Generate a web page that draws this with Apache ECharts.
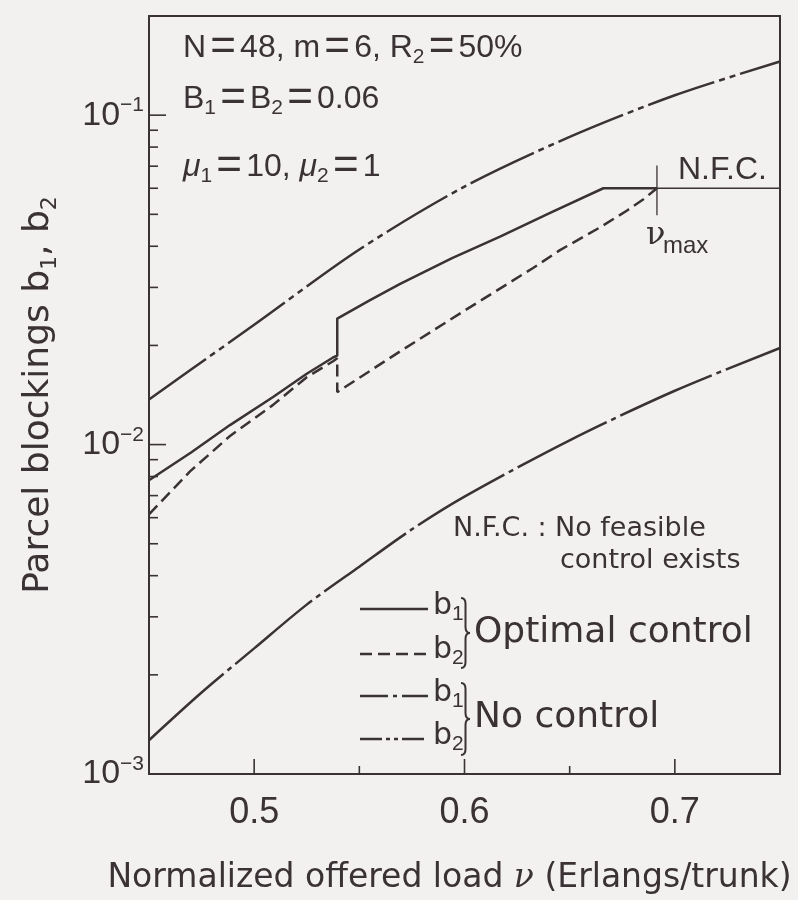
<!DOCTYPE html>
<html>
<head>
<meta charset="utf-8">
<script src="https://cdn.jsdelivr.net/npm/echarts@6/dist/echarts.min.js"></script>
<style>
html, body { margin: 0; padding: 0; background: #f2f1f0; }
#main { width: 798px; height: 900px; }
</style>
</head>
<body>
<div id="main"></div>
<script>
var ink = '#3a3234';

// optimal control, b1 (solid) and b2 (dashed): [load, blocking]
var optB1 = [
    [0.45, 0.00779], [0.47, 0.00946], [0.4885, 0.01146], [0.509, 0.01395],
    [0.525, 0.0164], [0.5377, 0.01841], [0.5395, 0.01862], [0.5395, 0.02413],
    [0.5551, 0.02745], [0.5694, 0.03075], [0.5941, 0.03683], [0.6169, 0.04276],
    [0.6407, 0.05049], [0.666, 0.06], [0.6915, 0.06]
];
var optB2 = [
    [0.45, 0.00614], [0.4695, 0.00829], [0.4885, 0.01062], [0.509, 0.0132],
    [0.525, 0.01602], [0.5375, 0.0179], [0.5395, 0.0183], [0.5395, 0.01443],
    [0.5694, 0.01919], [0.6, 0.0255], [0.6326, 0.03436], [0.6454, 0.03894],
    [0.6645, 0.04567], [0.6773, 0.05137], [0.6849, 0.05546], [0.6915, 0.06]
];
// no control
var noCtlB1 = [
    [0.45, 0.001266], [0.475, 0.001767], [0.5, 0.002406], [0.525, 0.003267],
    [0.55, 0.004258], [0.575, 0.00553], [0.6, 0.00695], [0.65, 0.0103],
    [0.7, 0.01457], [0.75, 0.01964]
];
var noCtlB2 = [
    [0.45, 0.0137], [0.47, 0.0169], [0.5, 0.0231], [0.55, 0.0391],
    [0.6, 0.0607], [0.65, 0.0859], [0.7, 0.1149], [0.75, 0.1455]
];
var nuMax = 0.6915;
var nfcLine = [[nuMax, 0.06], [0.75, 0.06]];
var nuMaxMark = [[nuMax, 0.0704], [nuMax, 0.0497]];

var xMajorTicks = [0.5, 0.6, 0.7];
var xMinorTicks = [0.55, 0.65];
var yMajorTicks = [0.01, 0.1];
var yMinorTicks = [0.002, 0.003, 0.004, 0.005, 0.006, 0.007, 0.008, 0.009,
                   0.02, 0.03, 0.04, 0.05, 0.06, 0.07, 0.08, 0.09];

// ticks drawn inward: [axis (0 = x, 1 = y), value, length]
var tickData = [];
xMajorTicks.forEach(function (v) { tickData.push([0, v, 15]); });
xMinorTicks.forEach(function (v) { tickData.push([0, v, 8]); });
yMajorTicks.forEach(function (v) { tickData.push([1, v, 17]); });
yMinorTicks.forEach(function (v) { tickData.push([1, v, 9]); });

var subStyle = { fontSize: 21, lineHeight: 21, verticalAlign: 'bottom', fontFamily: 'Liberation Sans', fill: ink };
var eqStyle = { width: 34, align: 'center', fontSize: 44, lineHeight: 40, fontFamily: 'Liberation Sans', fill: ink };
var muStyle = { fontStyle: 'italic', fontSize: 32, fontFamily: 'Liberation Sans', fill: ink };

function txt(x, y, text, size, family) {
    return {
        type: 'text', x: x, y: y, silent: true, z: 100,
        style: {
            text: text, fill: ink,
            fontSize: size, fontFamily: family || 'DejaVu Sans',
            align: 'left', verticalAlign: 'middle', lineHeight: size + 8,
            rich: { s: subStyle, eq: eqStyle, mu: muStyle }
        }
    };
}

// right curly brace from y0 to y1, tip pointing right
function brace(x, y0, y1) {
    var w = 9, r = 6, ym = (y0 + y1) / 2, xm = x + w / 2;
    var st = { stroke: ink, lineWidth: 2, fill: null };
    function bz(a, b, c, d, e, f) {
        return { type: 'bezierCurve', silent: true, z: 100,
            shape: { x1: a, y1: b, cpx1: c, cpy1: d, x2: e, y2: f }, style: st };
    }
    function ln(a, b, c, d) {
        return { type: 'line', silent: true, z: 100,
            shape: { x1: a, y1: b, x2: c, y2: d }, style: st };
    }
    return [
        bz(x, y0, xm, y0, xm, y0 + r),
        ln(xm, y0 + r, xm, ym - r),
        bz(xm, ym - r, xm, ym, x + w, ym),
        bz(x + w, ym, xm, ym, xm, ym + r),
        ln(xm, ym + r, xm, y1 - r),
        bz(xm, y1 - r, xm, y1, x, y1)
    ];
}

var graphics = [
    txt(183, 48, 'N{eq|=}48, m{eq|=}6, R{s|2}{eq|=}50%', 32, 'Liberation Sans'),
    txt(183, 99, 'B{s|1}{eq|=}B{s|2}{eq|=}0.06', 32, 'Liberation Sans'),
    txt(183, 167, '{mu|\u03bc}{s|1}{eq|=}10, {mu|\u03bc}{s|2}{eq|=}1', 32, 'Liberation Sans'),
    txt(678, 170, 'N.F.C.', 32, 'Liberation Sans'),
    txt(646, 236, '\u03bd', 32, 'DejaVu Serif'),
    txt(663, 246, 'max', 24, 'Liberation Sans'),
    txt(453, 529, 'N.F.C. :', 27),
    txt(555, 529, 'No feasible', 27),
    txt(560, 561, 'control exists', 27),
    // legend samples
    { type: 'line', shape: { x1: 360, y1: 609, x2: 428, y2: 609 }, style: { stroke: ink, lineWidth: 2.5 } },
    { type: 'line', shape: { x1: 360, y1: 654, x2: 428, y2: 654 }, style: { stroke: ink, lineWidth: 2.5, lineDash: [12, 6] } },
    { type: 'line', shape: { x1: 360, y1: 696, x2: 428, y2: 696 }, style: { stroke: ink, lineWidth: 2.5, lineDash: [28, 5, 4, 5] } },
    { type: 'line', shape: { x1: 360, y1: 739, x2: 428, y2: 739 }, style: { stroke: ink, lineWidth: 2.5, lineDash: [22, 4, 4, 4, 4, 4] } },
    txt(433, 606, 'b{s|1}', 30),
    txt(433, 650, 'b{s|2}', 30),
    txt(433, 693, 'b{s|1}', 30),
    txt(433, 736, 'b{s|2}', 30),
    txt(474, 633, 'Optimal control', 36),
    txt(474, 718, 'No control', 36)
].concat(brace(461, 598, 668), brace(461, 683, 755));

var chart = echarts.init(document.getElementById('main'));
var option = {
    backgroundColor: '#f2f1f0',
    animation: false,
    grid: {
        left: 149, right: 18, top: 16, bottom: 120,
        show: true, borderColor: ink, borderWidth: 2, backgroundColor: 'transparent'
    },
    xAxis: {
        type: 'value', min: 0.45, max: 0.75, interval: 0.05,
        axisLine: { show: false },
        axisTick: { show: false },
        splitLine: { show: false },
        axisLabel: {
            margin: 21, color: ink, fontSize: 36,
            fontFamily: '"Liberation Sans Narrow", "Liberation Sans"',
            formatter: function (v) {
                var t = Math.round(v * 10);
                return (Math.abs(v * 10 - t) < 1e-6 && v > 0.46 && v < 0.74) ? (t / 10).toFixed(1) : '';
            }
        },
        name: 'Normalized offered load {i|ν} (Erlangs/trunk)',
        nameLocation: 'middle', nameGap: 88,
        nameTextStyle: {
            color: ink, fontSize: 33, fontFamily: 'DejaVu Sans', padding: [0, 30, 0, 0],
            rich: { i: { fontStyle: 'italic', fontSize: 33, fontFamily: 'DejaVu Serif', color: ink } }
        }
    },
    yAxis: {
        type: 'log', logBase: 10, min: 0.001, max: 0.2,
        axisLine: { show: false },
        axisTick: { show: false },
        splitLine: { show: false },
        axisLabel: {
            margin: 5, color: ink,
            formatter: function (v) {
                var e = Math.round(Math.log(v) / Math.LN10);
                if (Math.abs(v - Math.pow(10, e)) > 1e-6 * v) return '';
                return '{b|10}{p|\u2212' + (-e) + '}';
            },
            rich: {
                b: { fontSize: 34, lineHeight: 40, fontFamily: 'Liberation Sans', color: ink },
                p: { fontSize: 21, lineHeight: 21, verticalAlign: 'top', fontFamily: 'Liberation Sans', color: ink }
            }
        },
        name: 'Parcel blockings b{s|1}, b{s|2}',
        nameLocation: 'middle', nameGap: 88,
        nameTextStyle: {
            color: ink, fontSize: 36, fontFamily: 'DejaVu Sans', lineHeight: 44,
            rich: { s: { fontSize: 22, lineHeight: 22, verticalAlign: 'bottom', fontFamily: 'DejaVu Sans', color: ink } }
        }
    },
    series: [
        {
            name: 'b1 optimal', type: 'line', data: optB1, symbol: 'none',
            lineStyle: { color: ink, width: 2.5, type: 'solid' }
        },
        {
            name: 'b2 optimal', type: 'line', data: optB2, symbol: 'none',
            lineStyle: { color: ink, width: 2.5, type: [12, 6] }
        },
        {
            name: 'b1 no control', type: 'line', data: noCtlB1, symbol: 'none', smooth: 0.3,
            lineStyle: { color: ink, width: 2.5, type: [100, 5, 5, 5] }
        },
        {
            name: 'b2 no control', type: 'line', data: noCtlB2, symbol: 'none', smooth: 0.3,
            lineStyle: { color: ink, width: 2.5, type: [70, 5, 6, 5, 6, 5] }
        },
        {
            name: 'N.F.C.', type: 'line', data: nfcLine, symbol: 'none',
            lineStyle: { color: ink, width: 1.3 }
        },
        {
            name: 'nu max', type: 'line', data: nuMaxMark, symbol: 'none',
            lineStyle: { color: ink, width: 1.3 }
        },
        {
            name: 'ticks', type: 'custom', data: tickData, silent: true, clip: false,
            renderItem: function (params, api) {
                var isY = api.value(0) === 1, v = api.value(1), len = api.value(2);
                var p, shape;
                if (!isY) {
                    p = api.coord([v, 0.001]);
                    shape = { x1: p[0], y1: p[1], x2: p[0], y2: p[1] - len };
                } else {
                    p = api.coord([0.45, v]);
                    shape = { x1: p[0], y1: p[1], x2: p[0] + len, y2: p[1] };
                }
                return { type: 'line', shape: shape, style: { stroke: ink, lineWidth: 1.6 } };
            }
        }
    ],
    graphic: graphics
};
chart.setOption(option);
</script>
</body>
</html>
